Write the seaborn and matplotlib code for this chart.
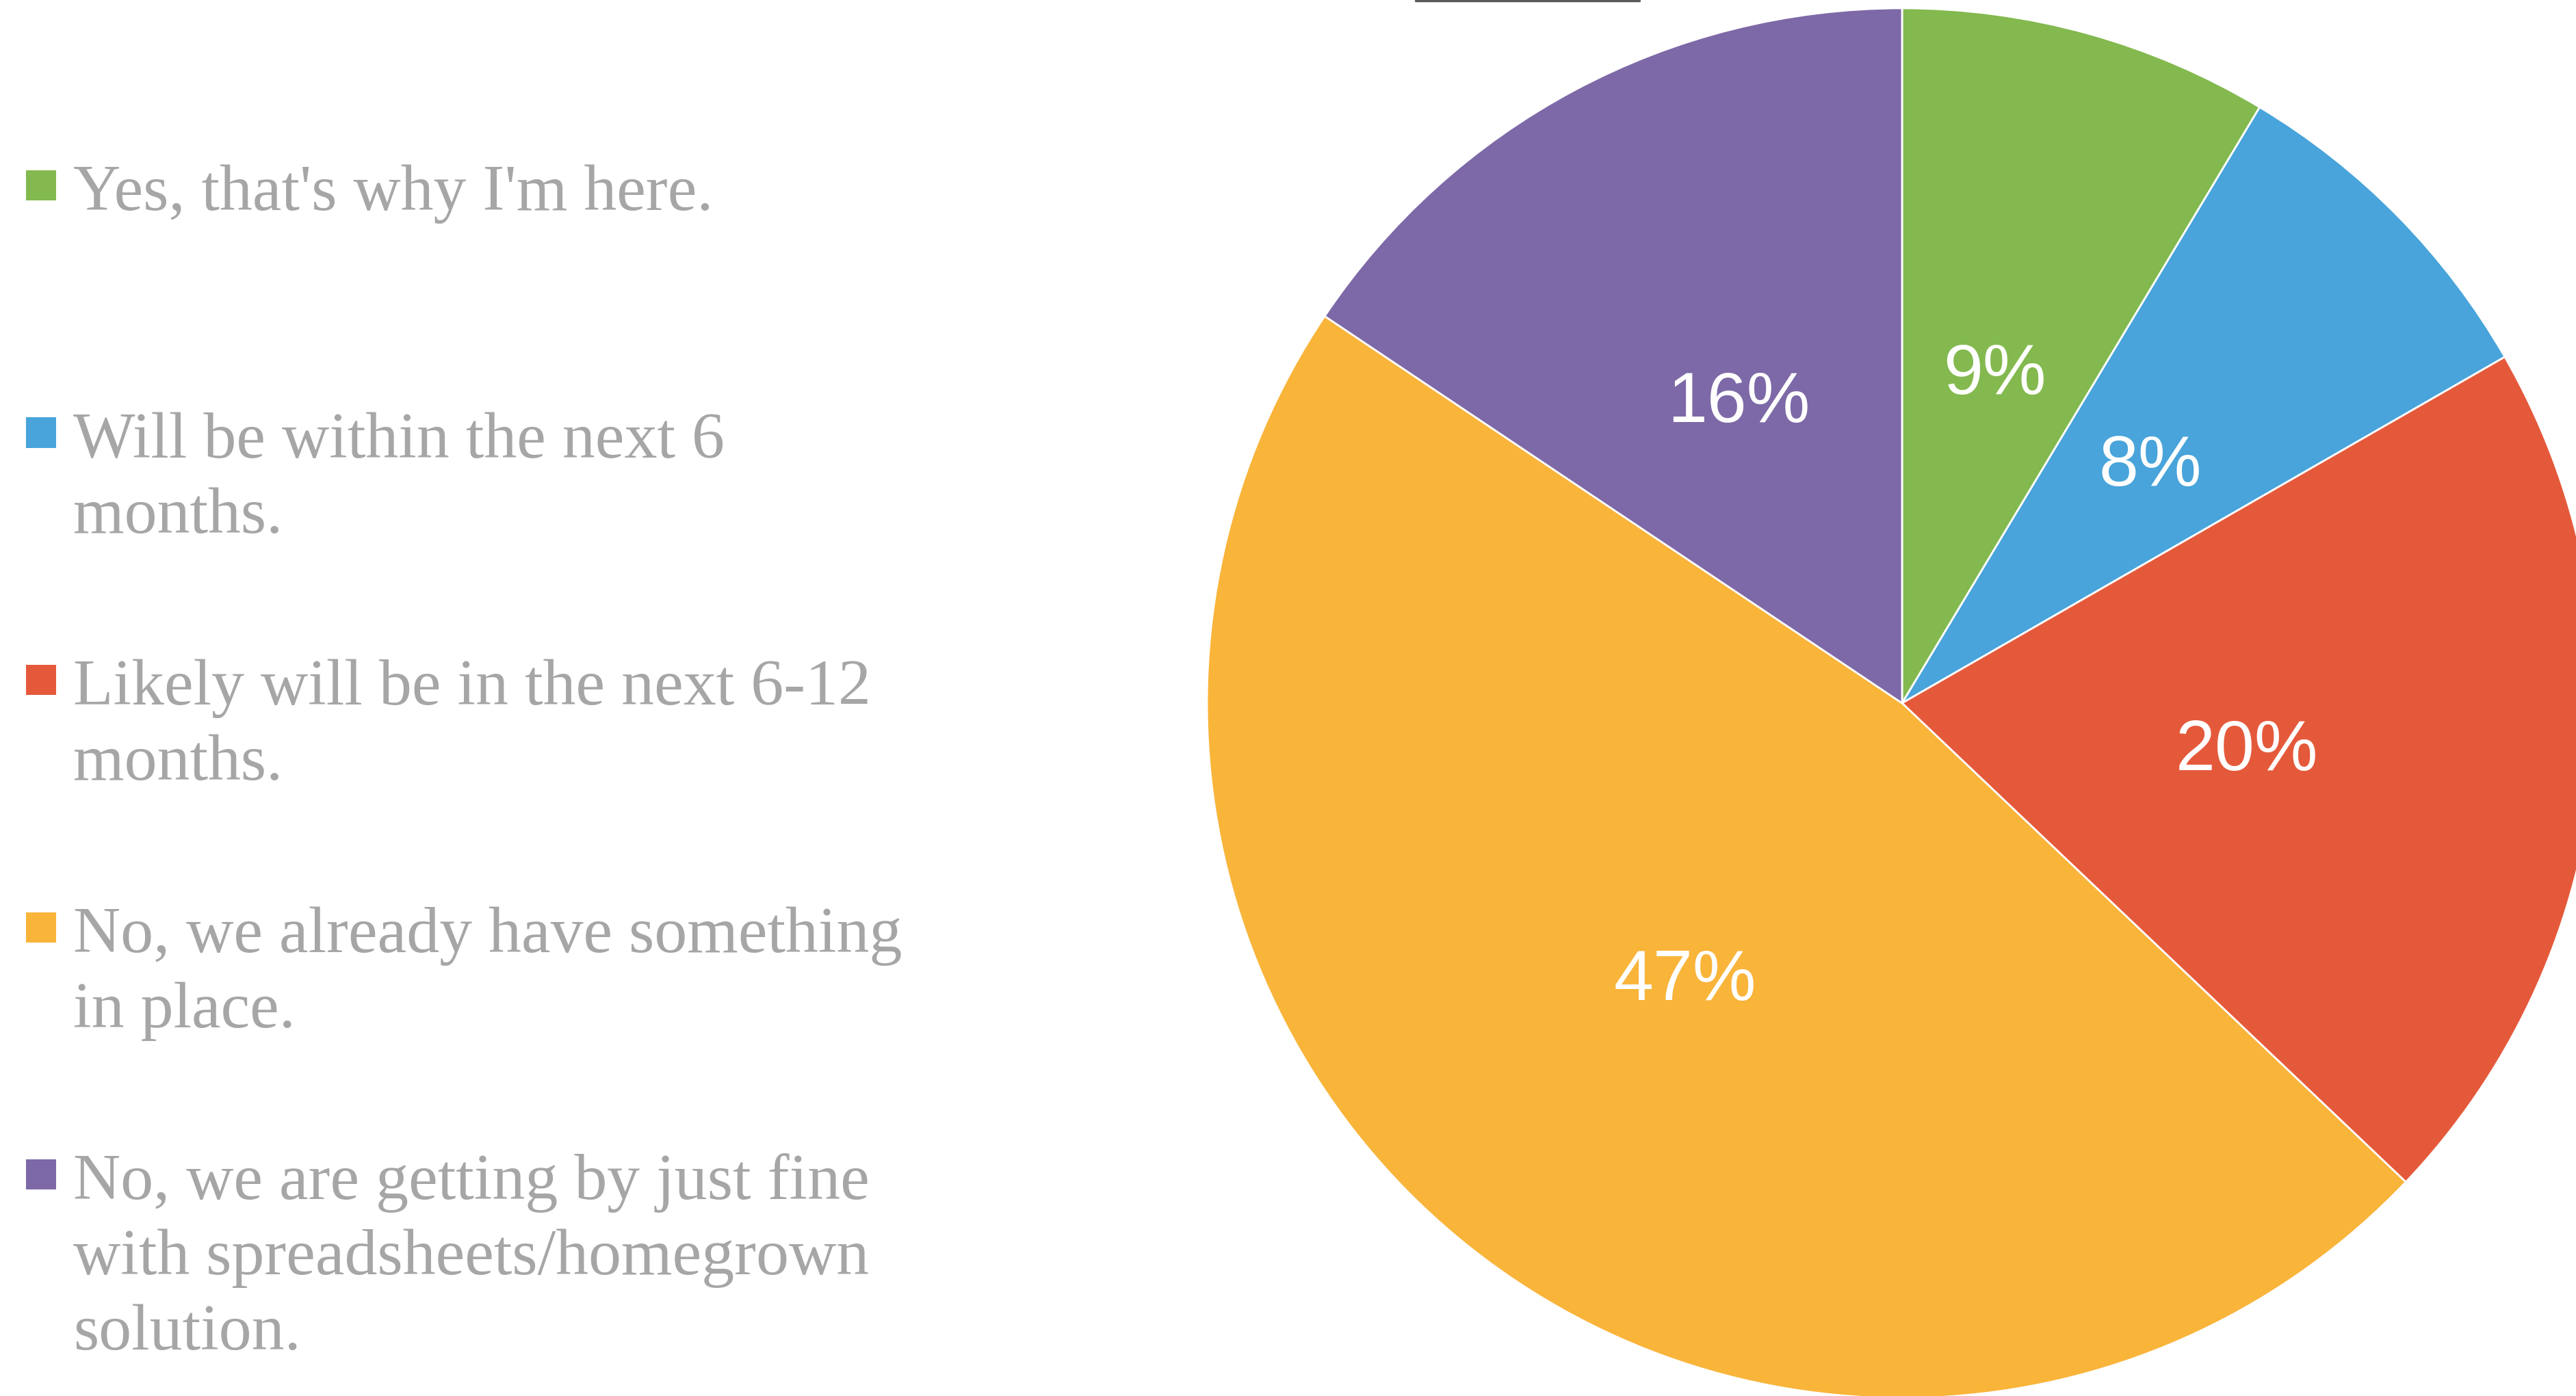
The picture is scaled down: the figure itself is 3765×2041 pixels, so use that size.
import matplotlib
matplotlib.use("Agg")
import matplotlib.pyplot as plt
import seaborn as sns
from matplotlib.patches import Rectangle
from matplotlib.lines import Line2D

# ---- data ----
categories = [
    "Yes, that's why I'm here.",
    "Will be within the next 6\nmonths.",
    "Likely will be in the next 6-12\nmonths.",
    "No, we already have something\nin place.",
    "No, we are getting by just fine\nwith spreadsheets/homegrown\nsolution.",
]
shares = [8.6, 8.1, 20.4, 47.3, 15.6]
colors = ["#83B94F", "#48A4DA", "#E5593B", "#F9B43A", "#7D69A7"]

W, H, DPI = 3765, 2041, 100
sns.set_theme(style="white")
plt.rcParams['font.family'] = ['Liberation Sans', 'DejaVu Sans']

fig = plt.figure(figsize=(W / DPI, H / DPI), dpi=DPI)
fig.patch.set_facecolor("white")

# ---- pie ----
cx, cy, R = 2780, 1028, 1016
ax = fig.add_axes([(cx - R) / W, (H - (cy + R)) / H, 2 * R / W, 2 * R / H])
wedges, texts, autotexts = ax.pie(
    shares, colors=colors, startangle=90, counterclock=False,
    autopct='%.0f%%', pctdistance=0.5,
    wedgeprops=dict(edgecolor='white', linewidth=2),
    textprops=dict(color='white', fontsize=75, family=['Liberation Sans']),
)
for t in autotexts:
    t.set_va('center_baseline')
ax.set_xlim(-1, 1)
ax.set_ylim(-1, 1)
ax.set_aspect('equal')
ax.axis('off')
for w in wedges:
    w.set_clip_on(False)

# ---- legend (left side) ----
base0, pitch, lpitch = 307, 361.5, 110
for i, (lab, col) in enumerate(zip(categories, colors)):
    b = base0 + i * pitch
    top = b - 36 - 22
    fig.patches.append(Rectangle((38 / W, (H - (top + 44)) / H), 44 / W, 44 / H,
                                 transform=fig.transFigure, facecolor=col,
                                 edgecolor='none'))
    for j, line in enumerate(lab.split('\n')):
        fig.text(107 / W, (H - (b + j * lpitch)) / H, line, fontsize=69,
                 color='#A6A6A6', family=['Liberation Serif'],
                 va='baseline', ha='left')

# thin grey stroke at the top edge
fig.add_artist(Line2D([2069 / W, 2396 / W], [1 - 1 / H, 1 - 1 / H],
                      color='#595959', linewidth=2.5, transform=fig.transFigure))

fig.savefig('out.png', dpi=DPI)
